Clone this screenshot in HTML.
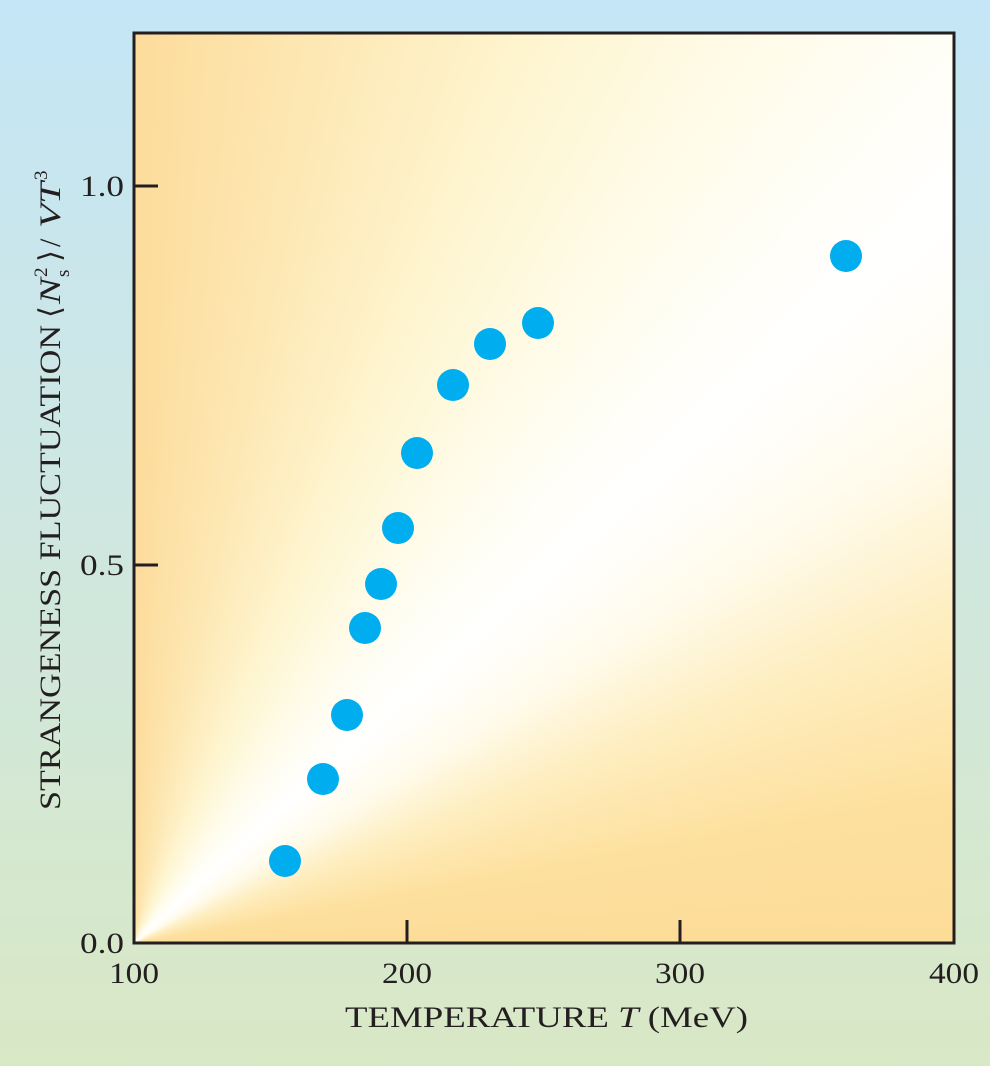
<!DOCTYPE html>
<html><head><meta charset="utf-8"><style>
html,body{margin:0;padding:0}
body{width:990px;height:1066px;background:linear-gradient(180deg,#c4e6f6 0%,#cfe7e0 50%,#d9e8c5 100%);position:relative;overflow:hidden;font-family:"Liberation Serif",serif;color:#231f20}
#plot{position:absolute;left:134px;top:33px;width:820px;height:910px;background:conic-gradient(from 0deg at 0% 100%,#fddc9c 0deg,#fde6b0 10deg,#fef6d2 25deg,#fffdf0 38deg,#ffffff 48deg,#fffbec 58deg,#feeec0 68deg,#fde09e 80deg,#fddc98 90deg);}
</style></head><body>
<div id="plot"></div>
<svg width="990" height="1066" style="position:absolute;left:0;top:0">
<rect x="134" y="33" width="820" height="910" fill="none" stroke="#231f20" stroke-width="3"/>
<g stroke="#231f20" stroke-width="3">
<line x1="407" y1="943" x2="407" y2="920"/>
<line x1="680" y1="943" x2="680" y2="920"/>
<line x1="134" y1="186" x2="158" y2="186"/>
<line x1="134" y1="565" x2="158" y2="565"/>
</g>
<g font-family="Liberation Serif, serif" font-size="30" fill="#231f20">
<text x="134" y="983" text-anchor="middle" textLength="50" lengthAdjust="spacingAndGlyphs">100</text>
<text x="407" y="983" text-anchor="middle" textLength="50" lengthAdjust="spacingAndGlyphs">200</text>
<text x="680" y="983" text-anchor="middle" textLength="50" lengthAdjust="spacingAndGlyphs">300</text>
<text x="954" y="983" text-anchor="middle" textLength="50" lengthAdjust="spacingAndGlyphs">400</text>
<text x="80" y="953" textLength="44" lengthAdjust="spacingAndGlyphs">0.0</text>
<text x="80" y="575" textLength="44" lengthAdjust="spacingAndGlyphs">0.5</text>
<text x="80" y="196" textLength="44" lengthAdjust="spacingAndGlyphs">1.0</text>
<text x="345" y="1027" textLength="403" lengthAdjust="spacingAndGlyphs">TEMPERATURE <tspan font-style="italic">T</tspan> (MeV)</text>
<g transform="translate(60,810) rotate(-90)">
<text x="0" y="0" textLength="485" lengthAdjust="spacingAndGlyphs">STRANGENESS FLUCTUATION</text>
<text x="492" y="0" textLength="12" lengthAdjust="spacingAndGlyphs">⟨</text>
<text x="506" y="0" font-style="italic" textLength="26" lengthAdjust="spacingAndGlyphs">N</text>
<text x="533" y="9" font-size="19">s</text>
<text x="533" y="-13" font-size="19">2</text>
<text x="548" y="0" textLength="12" lengthAdjust="spacingAndGlyphs">⟩</text>
<text x="563" y="0">/</text>
<text x="582" y="0" font-style="italic" textLength="46" lengthAdjust="spacingAndGlyphs">VT</text>
<text x="630" y="-13" font-size="19">3</text>
</g>
</g>
<g fill="#00aeef">
<circle cx="285" cy="861" r="16"/>
<circle cx="323" cy="779" r="16"/>
<circle cx="347" cy="715" r="16"/>
<circle cx="365" cy="628" r="16"/>
<circle cx="381" cy="584" r="16"/>
<circle cx="398" cy="528" r="16"/>
<circle cx="417" cy="453" r="16"/>
<circle cx="453" cy="385" r="16"/>
<circle cx="490" cy="344" r="16"/>
<circle cx="538" cy="323" r="16"/>
<circle cx="846" cy="256" r="16"/>
</g>
</svg>
</body></html>
